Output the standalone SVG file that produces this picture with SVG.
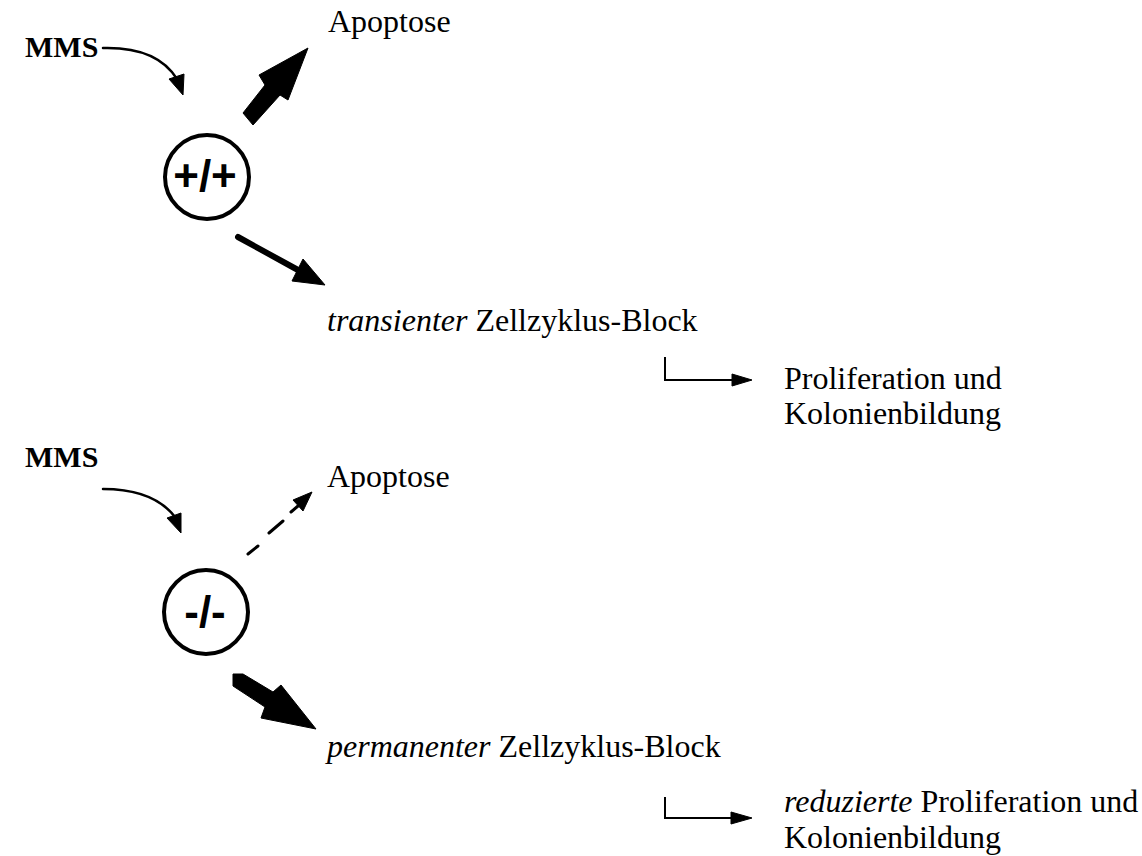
<svg xmlns="http://www.w3.org/2000/svg" width="1142" height="856" viewBox="0 0 1142 856">
  <style>
    .lbl { font-family: "Liberation Serif", "Times New Roman", serif; font-size: 32px; fill: #000; }
    .it { font-style: italic; }
    .mms { font-family: "Liberation Serif", "Times New Roman", serif; font-size: 30px; font-weight: bold; fill: #000; }
    .geno { font-family: "Liberation Sans", Arial, sans-serif; font-size: 44px; font-weight: bold; fill: #000; text-anchor: middle; }
    .ring { fill: none; stroke: #000; stroke-width: 4; }
    .wire { fill: none; stroke: #000; stroke-width: 2.5; stroke-linecap: round; }
    .thin { fill: none; stroke: #000; stroke-width: 2; }
    .shaft { fill: none; stroke: #000; stroke-width: 6; stroke-linecap: round; }
    .dash { fill: none; stroke: #000; stroke-width: 3; stroke-linecap: round; }
    .head { fill: #000; stroke: #000; stroke-width: 1; stroke-linejoin: round; }
  </style>

  <!-- wild type -->
  <g id="mms-top"><text class="mms" x="25" y="57">MMS</text></g>
  <g id="cell-wt">
    <circle class="ring" cx="207" cy="177" r="42"/>
    <text class="geno" x="205" y="191">+/+</text>
  </g>
  <g id="apoptose-top"><text class="lbl" x="328" y="32">Apoptose</text></g>
  <g id="block-transient"><text class="lbl" x="327" y="331"><tspan class="it">transienter</tspan> Zellzyklus-Block</text></g>
  <g id="prolif-top">
    <text class="lbl" x="784" y="389">Proliferation und</text>
    <text class="lbl" x="784" y="424">Kolonienbildung</text>
  </g>

  <!-- knockout -->
  <g id="mms-bottom"><text class="mms" x="25" y="467">MMS</text></g>
  <g id="cell-ko">
    <circle class="ring" cx="206" cy="612" r="42"/>
    <text class="geno" x="205" y="627">-/-</text>
  </g>
  <g id="apoptose-bottom"><text class="lbl" x="327" y="487">Apoptose</text></g>
  <g id="block-permanent"><text class="lbl" x="327" y="757"><tspan class="it">permanenter</tspan> Zellzyklus-Block</text></g>
  <g id="prolif-bottom">
    <text class="lbl" x="784" y="812"><tspan class="it">reduzierte</tspan> Proliferation und</text>
    <text class="lbl" x="784" y="848">Kolonienbildung</text>
  </g>

  <g id="connectors">
    <!-- MMS acting on the cells -->
    <path class="wire" d="M103,48 C140,47 164,58 177,79"/>
    <polygon class="head" points="169,79 184,74 183,95"/>
    <path class="wire" d="M103,489 C140,489 162,500 175,517"/>
    <polygon class="head" points="167,518 181,513 181,533"/>

    <!-- +/+ outcomes -->
    <polygon class="head" points="243,113 265,85 259,75 308,48 288,100 280,95 253,125"/>
    <line class="shaft" x1="238" y1="237" x2="298" y2="270"/>
    <polygon class="head" points="292,281 303,259 325,285"/>
    <path class="thin" d="M665,357 V380 H733"/>
    <polygon class="head" points="732,374 752,380 732,386"/>

    <!-- -/- outcomes -->
    <path class="dash" d="M248,554 L258,546 M269,533 L283,521 M291,512 L298,506"/>
    <polygon class="head" points="293,500 312,492 303,511"/>
    <polygon class="head" points="233,674 243,674 273,692 281,685 316,729 261,718 265,707 233,686"/>
    <path class="thin" d="M665,797 V818 H733"/>
    <polygon class="head" points="731,812 752,818 731,824"/>
  </g>
</svg>
